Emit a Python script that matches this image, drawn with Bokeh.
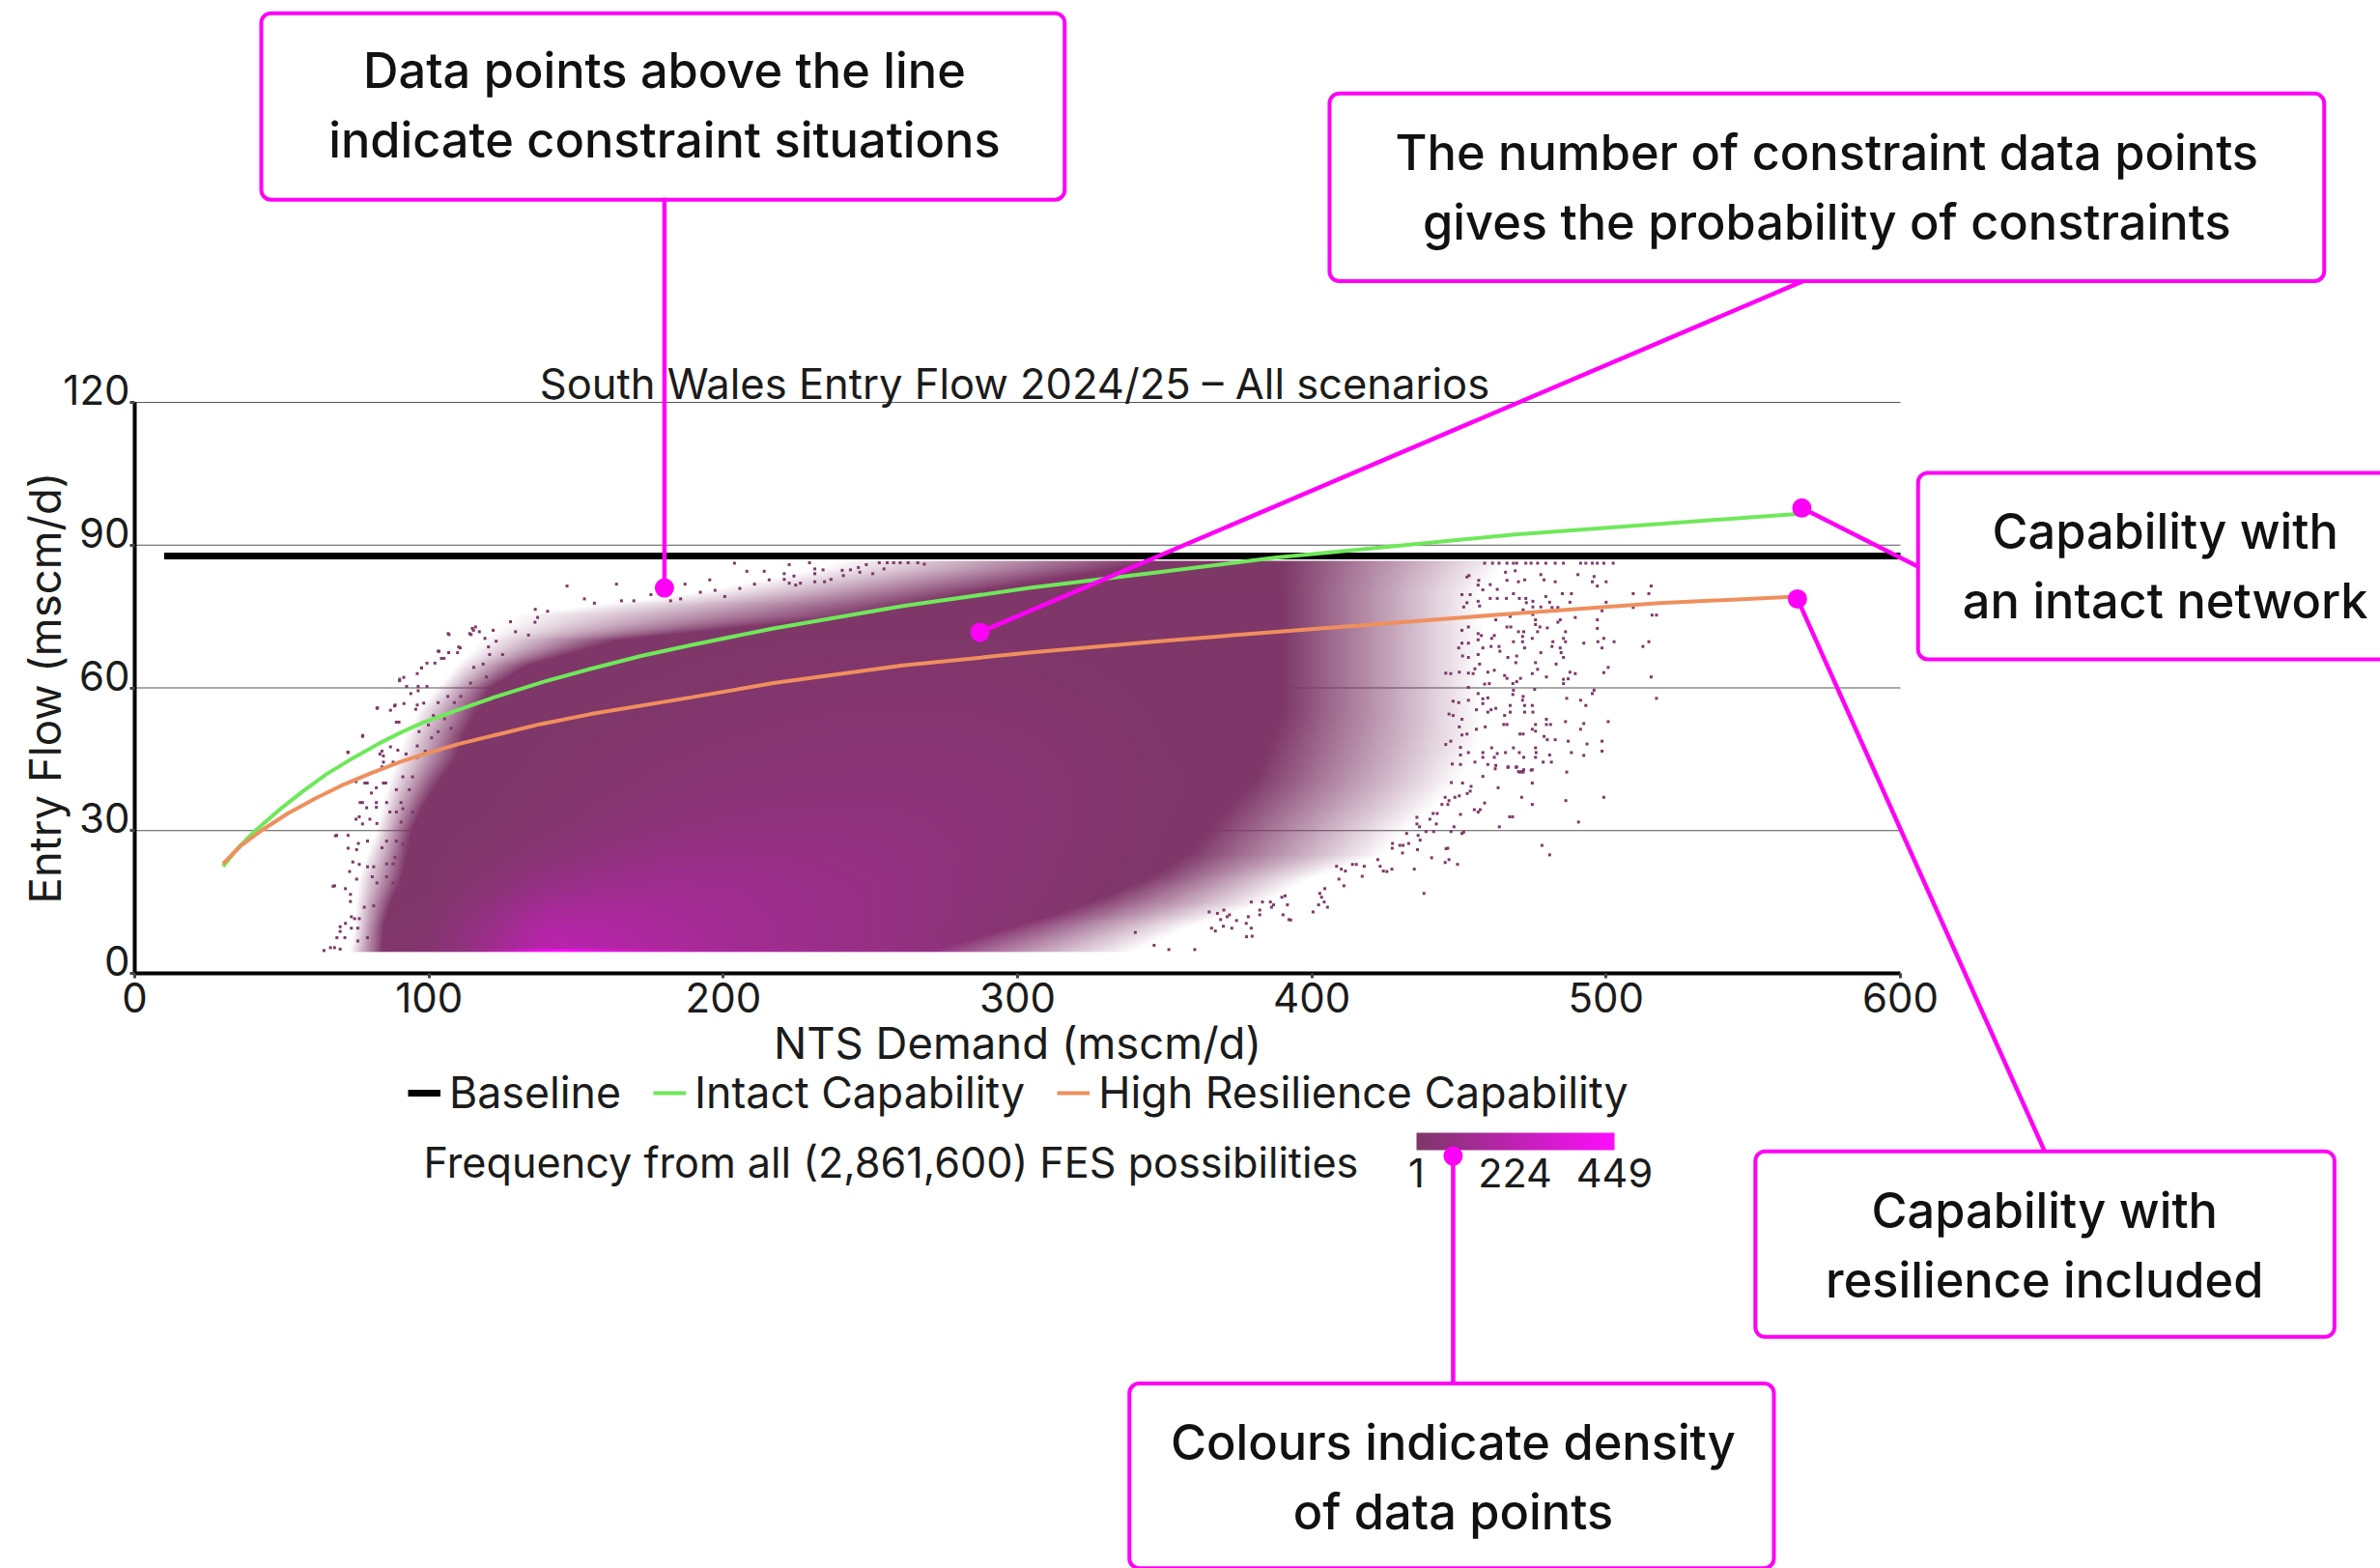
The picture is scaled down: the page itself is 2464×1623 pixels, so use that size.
import numpy as np
from bokeh.core.properties import value
from bokeh.embed import file_html
from bokeh.models import (BoxAnnotation, ColorBar, FixedTicker, Legend, LegendItem,
                          LinearColorMapper)
from bokeh.plotting import figure
from bokeh.resources import INLINE

# ---------------- data ----------------
X_TICKS = [0, 100, 200, 300, 400, 500, 600]
Y_TICKS = [0, 30, 60, 90, 120]
TITLE = "South Wales Entry Flow 2024/25 – All scenarios"
BASELINE_X = [10, 600]
BASELINE_Y = [87.7, 87.7]
INTACT_X = [30, 35, 41, 50, 57, 65, 74, 83, 90, 98, 110, 122, 139, 155, 172, 189, 217, 261, 304, 348, 388, 408, 468, 566]
INTACT_Y = [22.5, 26.3, 30, 34.8, 38.2, 41.8, 45.2, 48.3, 50.5, 52.7, 55.4, 58, 61.3, 64, 66.7, 69, 72.5, 77.2, 81, 84.3, 87.4, 88.6, 92.2, 96.6]
RESIL_X = [30, 36, 43, 52, 61.5, 70, 80, 90, 98, 110, 122, 138, 155, 189, 217, 261, 304, 348, 388, 418, 468, 518, 568]
RESIL_Y = [23, 26.8, 30, 33.6, 36.8, 39.4, 42, 44.4, 46, 48.2, 50, 52.4, 54.5, 58, 61, 64.7, 67.4, 69.8, 71.8, 73.2, 75.6, 77.8, 79.3]

# density counts: rows DENS_Y, columns DENS_X
DENS_X = [70, 100, 120, 140, 160, 180, 200, 225, 250, 275, 300, 325, 350, 400]
DENS_Y = [4.5, 8, 12, 18, 25, 32, 40, 50, 60, 70, 80, 87]
DENS = [
    [1, 25, 110, 205, 190, 160, 130, 110, 85, 55, 25, 8, 2, 1],
    [1, 20, 100, 200, 185, 155, 130, 105, 85, 55, 28, 9, 2, 1],
    [1, 12, 80, 165, 165, 145, 125, 105, 85, 60, 30, 10, 3, 1],
    [1, 6, 40, 90, 115, 120, 115, 100, 85, 60, 35, 14, 4, 1],
    [1, 3, 18, 40, 65, 85, 90, 85, 75, 62, 40, 18, 6, 1],
    [1, 2, 8, 20, 35, 50, 60, 65, 65, 55, 42, 22, 8, 1],
    [1, 1, 4, 12, 22, 32, 40, 45, 48, 45, 38, 22, 9, 1],
    [1, 1, 2, 7, 12, 18, 24, 30, 34, 34, 28, 18, 7, 1],
    [1, 1, 1, 3, 6, 9, 13, 18, 20, 20, 16, 10, 4, 1],
    [1, 1, 1, 1, 2, 3, 5, 7, 8, 8, 6, 4, 2, 1],
    [1, 1, 1, 1, 1, 1, 1, 2, 2, 2, 2, 2, 1, 1],
    [1, 1, 1, 1, 1, 1, 1, 1, 1, 1, 1, 1, 1, 1],
]
# thin bright strip on the floor of the cloud
FLOOR_X = [90, 113, 125, 137, 145, 152, 165, 180, 195, 220, 260, 300]
FLOOR_N = [5, 80, 200, 400, 449, 400, 300, 240, 180, 140, 100, 30]

# edge of the cloud per row: outer left, solid left, solid right, outer right
EDGE_Y = [4.5, 10, 15, 20, 25, 30, 35, 40, 45, 50, 55, 60, 65, 70, 75, 80, 85, 87]
EDGE_LO = [73, 74.7, 75, 76, 79, 82, 84, 86, 89, 92, 96, 103, 110, 118, 128, 190, 232, 240]
EDGE_LS = [84, 84.5, 87, 91, 92.5, 94, 98, 103, 109, 112, 116, 121, 135, 165, 245, 285, 335, 350]
EDGE_RS = [270, 300, 325, 345, 358, 365, 372, 380, 384, 387, 390, 390, 390, 390, 390, 390, 390, 390]
EDGE_RO = [340, 360, 385, 400, 425, 432, 442, 450, 455, 458, 458, 458, 458, 458, 458, 458, 465, 470]
FLOOR_Y = 4.5
CEIL_Y = 86.6

# isolated data pixels
SPECK_X = [502.4, 499.2, 497, 495.3, 493.1, 491.3, 485.5, 482.7, 479.5, 476.7, 474.5, 472.7, 469.6, 468.5, 466.3, 463.6, 461.4, 458.7,
           490.4, 495.9, 477.8, 472.3, 470.2, 466.3, 469.1, 465.8, 495.3, 500, 497, 515.3, 509.2, 514.5, 488.2, 485.1, 482.7, 478.9, 463, 460.6, 456.7,
           468.5, 479.5, 466.1, 463, 460.6, 470.5, 472.7, 475.1, 480.8, 487.7, 500, 472.9, 477.8, 475.1, 471.8, 481.6, 483.6, 498.6, 509.2, 467.4, 462.5,
           475.1, 476, 484.4, 483.6, 489.5, 497, 515.6, 517.1, 476, 477.5, 480, 486.2, 497, 466.3, 467.6, 470.2, 472, 476.7, 471.6, 474.9, 468.5, 471.6,
           485.5, 486.2, 481.9, 492.4, 497.2, 499.2, 502.7, 514.5, 512.5, 481.6, 484.4, 472.3, 498.6, 477.8, 484.7, 469.6, 466.6, 485.5, 469.3, 476, 483,
           476.7, 500.7, 499.2, 487.7, 489.5, 474.9, 465.5, 466.3, 470.9, 479.7, 515.3, 487.1, 485.5, 485.5, 469.6, 468.3, 475.7, 495.9, 495.3, 468.5, 468.3,
           486.6, 491.3, 493.1, 517.1, 471.8, 471.6, 472.3, 474.9, 467.4, 475.1, 472.3, 467.4, 465.5, 500.7, 486.2, 492.4, 491.3, 479.7, 476, 479.7, 481.1,
           474.9, 476, 465.2, 466.3, 471.8, 470.7, 478.9, 480, 482.7, 487.1, 493.5, 498.6, 498.6, 476, 468.5, 476.2, 470.5, 465.8, 480.8, 488.2, 492.4, 463,
           462, 472, 476, 469.4, 466.6, 478.6, 481.4, 459.8, 462.5, 471.8, 474.5, 470.7, 486.6,
           474.9, 472, 470.2, 471.3, 469.6, 466.7, 462.3, 458.1, 474.9, 463.3, 471.3, 486.3, 499.2, 474.9, 458.7, 455.2, 456.5, 457.2, 450.5, 467.2, 468.2,
           490.6, 463.7, 448.3, 451.6, 451, 478.2, 480.8, 446.2, 440.7, 446.6, 445.3, 449.5, 434.8, 438.1, 427.2, 424.3, 417.1, 410.9, 409.2, 404.4, 402.7,
           403.3, 404.2, 405.3, 402.3, 400.4, 392.2, 390.2, 391.7, 387, 386.3, 382.3, 382.3, 379.7, 379.4, 377.7, 374.4, 372.8, 369.9, 367.2, 365.9, 369,
           378.4, 372, 371.2, 367.9, 365.1, 370.1, 379.4, 383.2, 385.9, 390.9, 389.8, 432.2, 436.1, 436.8, 435.9, 430.8, 432.9, 431, 429.9, 427.3, 427.4,
           422.4, 423.2, 417.8, 413.8, 415.1, 411.4, 408.4, 410, 441.2, 442.6, 440.1, 442.3, 435.7, 435.7, 436.6, 438.8, 441.4, 447.3, 444.2, 446.2, 445.3,
           446.6, 448.6, 450.1, 452.8, 453.8, 454.1, 451.2, 447.4,
           64.3, 66.5, 67.9, 69.8, 68.7, 69.8, 69.8, 71.6, 71.4, 73.6, 67.9, 71.6, 73.3, 73.3, 75.4, 76.3, 73, 74.1, 72.5, 75.4, 79.1, 76, 72.5, 68.6, 75.2,
           76.3, 77.4, 79.9, 82.3, 78.8, 76.6, 77.4, 80.4, 82.1, 82.1, 82.1, 78.2, 79, 84.5, 85.3, 75.2, 72.5, 77.4, 84, 84.5, 84.5, 84, 87.8, 86.9, 89.4,
           82.3, 86.9, 88.5, 91.5, 88.9, 89.8, 96, 95.5, 98.2, 93.8, 96.3, 92.4, 96.3, 99.3, 90, 91.4, 96, 97.4, 99.3, 103.1, 102, 104.2, 106.7, 105.1, 106.5,
           109.7, 110.6, 113.8, 114.7, 115.8, 117.1, 119,
           456.5, 453.4, 452.7, 451, 453.8, 456.5, 452.7, 457, 451.6, 458.1, 451, 453.2, 456.5, 457.6, 462, 461.1, 456.5, 453.2, 451, 449.9, 458.1, 460.9, 463.6,
           463.9, 456.5, 451.2, 453.2, 457, 455.4, 462, 459.8, 453.2, 450.1, 454.8, 445.5, 447.2, 460.3, 458.7, 453.2, 456.5, 459.8, 458.1, 453.2, 449.9, 448,
           458.1, 455.9, 459.8, 462.5, 460.9, 451, 448, 446.6, 450.1, 455.9, 458.9, 452.7, 451, 447.2, 450.5, 461.1, 458.1, 453.2, 458.1, 450.5, 450.5, 447.7,
           455.4, 445.5,
           146.9, 163.7, 187, 195.4, 203.8, 208, 213.9, 136.1, 140.3, 152.8, 156.2, 165.4, 169.6, 175.4, 182.1, 185.5, 192.2, 197.2, 200.5, 205.6, 210.6, 215.6,
           136.9, 127.7, 121.8, 115.1, 114.3, 120.2, 106.8, 103.4, 110.1, 97.5, 90, 88.3, 82.5, 77.5, 72.4, 83.3, 68.2, 67.4,
           222.4, 229.3, 231.1, 233.9, 220.7, 224, 231.1, 226.2, 240.4, 243.2, 245.9, 248.6, 253, 255.7, 257.9, 260.1, 262.8, 266.1, 268.3, 254.6, 250.8, 246.4,
           240.8, 236.6, 234.4, 231.1, 222.4, 224.6, 220.7,
           85.6, 82.3, 80.7, 79.1, 81.2, 87.8, 85.6, 90.5, 87.8, 81.2, 78, 76.3, 74.7, 73.6, 75.8, 79.1, 75.8, 88.9, 85.6, 84, 91.1, 93.3, 88.4, 94.4, 90.5, 88.9,
           86.7, 91.1, 94.4, 90.5, 88.9, 93.3, 85.6, 91.1, 94.4, 96, 98.7, 92.2, 96, 100.9, 96.6, 103.1, 99.8, 101.5, 105.3, 107.5, 103.1, 106.4, 110.8, 108.6,
           114.1, 119.5, 115.2, 118.4, 120.6, 125, 122.8, 129.4, 133.8, 136,
           377.8, 360.2, 351.4, 346.4, 340, 392.8, 425.5, 445.6]
SPECK_Y = [86.2] * 18 + [
           83.8, 83.4, 83.8, 82.7, 82.3, 82.6, 84.6, 84.3, 82.3, 82.3, 81.4, 81.4, 79.8, 79.8, 79.8, 79.8, 82.3, 82.7, 80.7, 81.7, 82.6,
           79.8, 79.2, 78.8, 78.8, 78.8, 78.8, 78.8, 78.2, 78, 78, 78, 77.9, 77, 77, 76.4, 76.9, 76.9, 76.2, 76.9, 75, 74.3,
           75.4, 74.3, 74.3, 73.8, 74.8, 74.3, 75.3, 75.3, 73.3, 72.8, 72.6, 71.8, 72.5, 72.8, 72.8, 71.8, 71.8, 71.8, 70.8, 70.4, 69.7, 69.7,
           70.4, 69.7, 69.7, 69.4, 69.7, 70.4, 69.7, 69.7, 68.7, 68.7, 68.4, 68.4, 68.4, 67.4, 67.4, 66.7, 66.4, 66.4, 65.3, 65.3, 65,
           63.9, 64.3, 63.2, 63.3, 63, 63, 62.6, 62, 62, 62.3, 62.3, 61.9, 61.8, 60.9, 61.3, 60.9, 59.7, 59.5, 58.8, 59.5, 58.6,
           57.8, 57.4, 56.3, 57.8, 58.2, 57.4, 56.3, 56.3, 56.3, 54.9, 54.9, 54.9, 54.2, 52.9, 52.9, 52.5, 51.3, 53.4, 52.3, 52.3, 52.3,
           51.3, 50.9, 52.3, 52.3, 50.3, 50.3, 49.8, 49.1, 49.1, 48.8, 48.2, 48.8, 46.7, 47.4, 47.4, 46.4, 46.4, 46.4, 45.9, 46.4, 45.8, 46.2,
           45.4, 45.4, 45.4, 43.3, 43.3, 44.4, 44.4, 43.9, 43.7, 42.3, 42.7, 42.3, 42.3,
           42.8, 42.8, 42.4, 42.4, 43.4, 43.4, 43, 41.4, 40, 39, 37, 36.3, 37, 35.5, 35.8, 34.4, 33.9, 34.4, 33.4, 32.9, 32.9,
           31.8, 30.8, 30.8, 29.7, 29.4, 26.9, 24.9, 26.3, 24.3, 23.9, 23.3, 22.9, 21.9, 16.8, 21.9, 21.5, 20.4, 18.4, 19.8, 17.8, 16.8,
           16, 15, 13.9, 14.4, 12.9, 11.3, 12.3, 14.4, 14.4, 13.9, 12.3, 13.3, 7.8, 9.5, 10.5, 11.1, 9.5, 9.9, 8.9, 9.5, 11.3,
           11.9, 12.3, 11.9, 12.6, 12.9, 13.3, 15, 15, 15, 16.3, 16, 29.4, 29, 28, 26, 25.3, 27.3, 26.9, 26.9, 26.3, 27.3,
           23.9, 22.5, 22.5, 22.9, 22.9, 21.5, 22.5, 21.9, 33.6, 33.6, 32.4, 31.4, 32.8, 31.4, 30.8, 29.8, 29.8, 29.8, 35.5, 35.5, 37,
           36.3, 37, 37.3, 37.8, 38.3, 39.3, 40, 40.1,
           4.8, 5.4, 5.4, 5.1, 7.5, 9.8, 8.8, 10.5, 7.5, 11.9, 18.4, 17.8, 16.6, 15.1, 19.8, 22.9, 21.4, 23.4, 26.3, 26, 27.8, 27.3, 29, 29, 32.4,
           32.9, 31.4, 32.4, 31.5, 34.8, 35.9, 35.9, 37.9, 39, 35.9, 34.9, 40, 40, 40, 40, 40.3, 46.4, 49.8, 46.7, 45.7, 44.4, 43.4, 44.4, 47.6, 46.9,
           55.7, 55.3, 56.4, 56.7, 52.8, 52.8, 56.4, 55.5, 56.8, 58.8, 59.4, 60.3, 60.3, 60.3, 61.8, 62.2, 63, 64.2, 65.2, 67.7, 65.2, 66.2, 67.4, 66.2, 71.4,
           67.4, 68.4, 71.4, 72.5, 72.8, 71.8, 70.4,
           81.6, 83.6, 83.3, 79.6, 79.6, 78.2, 77.9, 77.2, 77, 80.6, 72.1, 72.8, 71.4, 71, 71, 70.4, 70.1, 69.4, 69.4, 68.4, 68.4, 68.7, 68.7,
           67.7, 67, 66.7, 66.4, 65, 64, 63.7, 63.3, 63.1, 63.3, 63, 63.1, 63, 60.9, 60.8, 60.1, 58.8, 57.9, 57.7, 57.4, 56.9, 57.2,
           56.7, 55.4, 54.9, 55.7, 55.4, 53.4, 54.2, 54.5, 51.8, 51.3, 51.8, 50.3, 50.1, 48.8, 47.5, 47.4, 46.4, 46.4, 45.4, 45.9, 43.9, 44,
           44.4, 48.1,
           81.4, 81.8, 81.8, 82.7, 86.2, 84.5, 84.5, 76.5, 76.1, 78.7, 77.8, 78.3, 78.3, 79.6, 78.3, 78.7, 80.1, 80.5, 79.2, 80.9, 81.8, 82.7,
           74.8, 73.9, 72.1, 72.1, 71.2, 68.6, 71.2, 67.7, 68.6, 64.2, 61.5, 56.2, 55.8, 50, 46.5, 46.1, 28.9, 18.3,
           85.9, 86.3, 85, 84.8, 84, 83.5, 84, 82, 84.7, 84.8, 85.3, 85.9, 86.3, 86.3, 86.3, 86.3, 86.3, 86.3, 86, 85, 84, 84.3,
           83.6, 82.8, 82.3, 82.3, 82, 81.6, 82.8,
           20.3, 19, 20.3, 22.4, 22.4, 23, 23, 20.3, 19, 14.2, 13.9, 11.5, 11.5, 9.5, 9.5, 7.5, 6.8, 27.8, 27.8, 26.4, 27.1, 26.1, 24.4, 24.4, 31.8, 33.9,
           33.9, 34.6, 33.9, 35.9, 38.6, 38.6, 35.9, 41.3, 41.3, 45.4, 46.7, 46.1, 47.8, 49.5, 50.8, 50.8, 52.2, 54.2, 53.5, 51.5, 56.9, 58.2, 58.2, 56.9,
           61, 62.3, 64.3, 65, 67, 67, 69.8, 71.8, 71.1, 73.8,
           7.7, 5, 5, 5.9, 8.6, 11.2, 21.4, 26.2]

# callouts: dot (x, y), line end at the box (x, y), box (left, right, top, bottom), text lines, text x, text y's
CALLOUTS = [
    dict(dot=(180, 81), end=(180, 163), box=(43, 316, 201.8, 162.6), lines=["Data points above the line", "indicate constraint situations"], tx=180, ty=[189.8, 175.3]),
    dict(dot=(287.2, 71.7), end=(567, 145.5), box=(406, 744, 184.9, 145.5), lines=["The number of constraint data points", "gives the probability of constraints"], tx=575, ty=[172.5, 158]),
    dict(dot=(566.5, 97.8), end=(606, 85.5), box=(606, 770, 105.2, 66), lines=["Capability with", "an intact network"], tx=690, ty=[93, 78.3]),
    dict(dot=(565, 78.7), end=(649, -37.4), box=(550.7, 747.5, -37.4, -76.4), lines=["Capability with", "resilience included"], tx=649, ty=[-49.7, -64.4]),
    dict(dot=(448, -38.4), end=(448, -86.2), box=(338, 557, -86.2, -125), lines=["Colours indicate density", "of data points"], tx=448, ty=[-98.4, -113.1]),
]

# ---------------- layout ----------------
W, H = 2464, 1623
PX0, PX600 = 139.0, 1967.0
PY0, PY120 = 1007.0, 416.0
KX = (PX600 - PX0) / 600
KY = (PY0 - PY120) / 120
x_range = ((0 - PX0) / KX, (W - PX0) / KX)
y_range = ((PY0 - H) / KY, PY0 / KY)

FONT = "Inter"
DARK = "#1b1b1b"
MAGENTA = "#ff00f7"
PURPLE = "#7e3868"
LOW = (0x7e, 0x38, 0x68)
HIGH = (0xff, 0x0d, 0xff)

p = figure(width=W, height=H, x_range=x_range, y_range=y_range, output_backend="svg",
           toolbar_location=None, min_border=0, outline_line_color=None)

# axes
xa = p.xaxis[0]
xa.fixed_location = 0
xa.bounds = (0, 600)
xa.ticker = FixedTicker(ticks=X_TICKS)
xa.axis_label = "NTS Demand (mscm/d)"
ya = p.yaxis[0]
ya.fixed_location = 0
ya.bounds = (0, 120)
ya.ticker = FixedTicker(ticks=Y_TICKS)
ya.axis_label = "Entry Flow (mscm/d)"
ya.major_label_overrides = {t: "" for t in Y_TICKS}
for a in (xa, ya):
    a.axis_line_color = "black"
    a.axis_line_width = 4
    a.major_tick_line_color = "#444444"
    a.major_tick_line_width = 3
    a.major_tick_in = 0
    a.major_tick_out = 5
    a.minor_tick_line_color = None
    a.major_label_text_font = FONT
    a.major_label_text_font_size = "42px"
    a.major_label_text_color = DARK
    a.axis_label_text_font = FONT
    a.axis_label_text_font_size = "45.5px"
    a.axis_label_text_font_style = "normal"
    a.axis_label_text_color = DARK
xa.major_label_standoff = 4
xa.axis_label_standoff = 1
ya.major_label_standoff = 0
ya.axis_label_standoff = 61
p.xgrid.visible = False
p.ygrid.visible = False
p.segment(x0=[X_TICKS[0]] * 4, x1=[X_TICKS[-1]] * 4, y0=Y_TICKS[1:], y1=Y_TICKS[1:],
          line_color="#555555", line_width=1.2)
p.text([0] * len(Y_TICKS), Y_TICKS, text=[str(t) for t in Y_TICKS], text_font=value(FONT), text_font_size="42px",
       text_color=DARK, text_align="right", text_baseline="middle", x_offset=-5, y_offset=-13)

# density cloud raster from the read tables
cx = np.arange(60, 472, 0.5) + 0.25
cy = np.arange(FLOOR_Y, CEIL_Y, 0.2) + 0.1
dens_rows = np.array([np.interp(cx, DENS_X, r) for r in DENS])
dens = np.array([np.interp(cy, DENS_Y, dens_rows[:, i]) for i in range(cx.size)]).T
floor = np.interp(cx, FLOOR_X, FLOOR_N, left=0, right=0)
dens[cy < FLOOR_Y + 0.55] = np.maximum(dens[cy < FLOOR_Y + 0.55], floor)
t = np.clip((dens - 1) / 448, 0, 1)
lo = np.interp(cy, EDGE_Y, EDGE_LO)[:, None]
ls = np.interp(cy, EDGE_Y, EDGE_LS)[:, None]
rs = np.interp(cy, EDGE_Y, EDGE_RS)[:, None]
ro = np.interp(cy, EDGE_Y, EDGE_RO)[:, None]
X = cx[None, :]
cov = np.minimum(np.clip((X - lo) / (ls - lo), 0, 1), np.clip((ro - X) / (ro - rs), 0, 1))
img = np.zeros(cov.shape, dtype=np.uint32)
view = img.view(np.uint8).reshape(cov.shape + (4,))
for c in range(3):
    view[..., c] = (LOW[c] + (HIGH[c] - LOW[c]) * t).astype(np.uint8)
view[..., 3] = (cov * 255).astype(np.uint8)
p.image_rgba(image=[img], x=cx[0] - 0.25, y=FLOOR_Y, dw=float(cx.size * 0.5), dh=float(cy.size * 0.2))
p.scatter(SPECK_X, SPECK_Y, marker="square", size=3, color=PURPLE, line_color=None)

# lines
r_base = p.line(BASELINE_X, BASELINE_Y, line_color="black", line_width=7)
r_intact = p.line(INTACT_X, INTACT_Y, line_color="#6fe85a", line_width=4)
r_resil = p.line(RESIL_X, RESIL_Y, line_color="#ef8f5d", line_width=4)

# title
p.text([299], [124], text=[TITLE], text_font=value(FONT), text_font_size="43.5px", text_color=DARK,
       text_align="center", text_baseline="middle")

# legend
legend = Legend(items=[LegendItem(label="Baseline", renderers=[r_base]),
                       LegendItem(label="Intact Capability", renderers=[r_intact]),
                       LegendItem(label="High Resilience Capability", renderers=[r_resil])],
                orientation="horizontal", location=(422, 465), background_fill_alpha=0,
                border_line_color=None, glyph_width=34, glyph_height=20, label_standoff=9,
                spacing=33, padding=8, margin=0, label_text_font=FONT, label_text_font_size="44.7px",
                label_text_color=DARK)
p.add_layout(legend)

# colour scale
FREQ_TICKS = [1, 224, 449]
palette = ["#%02x%02x%02x" % tuple(int(LOW[c] + (HIGH[c] - LOW[c]) * i / 255) for c in range(3)) for i in range(256)]
mapper = LinearColorMapper(palette=palette, low=1, high=449)
cbar = ColorBar(color_mapper=mapper, ticker=FixedTicker(ticks=FREQ_TICKS), orientation="horizontal",
                location=(1466, 392), width=205, height=18, padding=0, margin=0, bar_line_color=None,
                major_tick_line_color=None, background_fill_alpha=0, border_line_color=None, label_standoff=8,
                major_label_text_font=FONT, major_label_text_font_size="41.5px", major_label_text_color=DARK)
p.add_layout(cbar)
p.text([257], [-39.7], text=["Frequency from all (2,861,600) FES possibilities"], text_font=value(FONT),
       text_font_size="43.2px", text_color=DARK, text_align="center", text_baseline="middle")

# callouts
for c in CALLOUTS:
    p.line([c["dot"][0], c["end"][0]], [c["dot"][1], c["end"][1]], line_color=MAGENTA, line_width=4.5, level="overlay")
    p.scatter([c["dot"][0]], [c["dot"][1]], size=20, color=MAGENTA, line_color=None, level="overlay")
for c in CALLOUTS:
    l, r, t_, b = c["box"]
    p.add_layout(BoxAnnotation(left=l, right=r, top=t_, bottom=b, fill_color="white", fill_alpha=1,
                               line_color=MAGENTA, line_alpha=1, line_width=4, border_radius=10, level="annotation"))
    p.text([c["tx"]] * 2, c["ty"], text=c["lines"], text_font=value("Inter Medium"), text_font_size="50.5px",
           text_color="#111111", text_align="center", text_baseline="middle", level="overlay")

open("out.html", "w").write(file_html(p, INLINE))
